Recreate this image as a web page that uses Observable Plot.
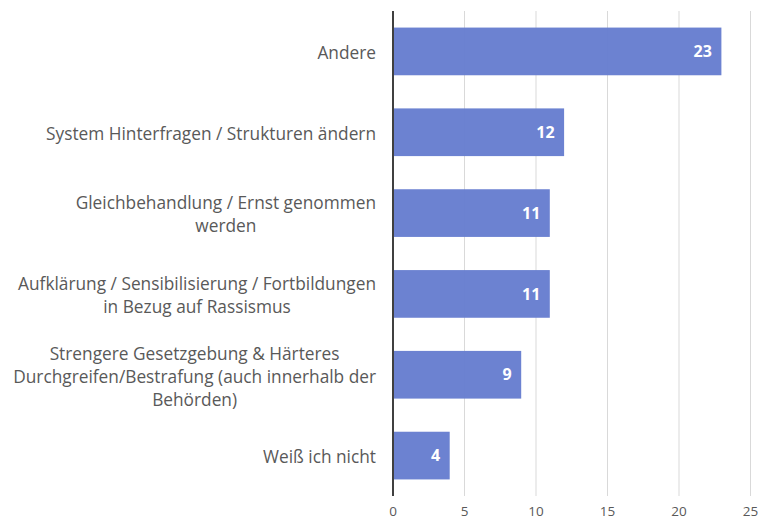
<!DOCTYPE html>
<html><head><meta charset="utf-8">
<script src="https://cdn.jsdelivr.net/npm/d3@7"></script>
<script src="https://cdn.jsdelivr.net/npm/@observablehq/plot@0.6"></script>
<style>body{margin:0;background:#fff;} svg{display:block;}</style>
</head><body><div id="chart"></div>
<script>
const categories = [
  "Andere",
  "System Hinterfragen / Strukturen ändern",
  "Gleichbehandlung / Ernst genommen werden",
  "Aufklärung / Sensibilisierung / Fortbildungen in Bezug auf Rassismus",
  "Strengere Gesetzgebung & Härteres Durchgreifen/Bestrafung (auch innerhalb der Behörden)",
  "Weiß ich nicht"
];
const labelLines = [
  ["Andere"],
  ["System Hinterfragen / Strukturen ändern"],
  ["Gleichbehandlung / Ernst genommen", "werden"],
  ["Aufklärung / Sensibilisierung / Fortbildungen", "in Bezug auf Rassismus"],
  ["Strengere Gesetzgebung & Härteres", "Durchgreifen/Bestrafung (auch innerhalb der", "Behörden)"],
  ["Weiß ich nicht"]
];
const values = [23, 12, 11, 11, 9, 4];
const xTicks = [0, 5, 10, 15, 20, 25];

const data = categories.map((c, i) => ({category: c, value: values[i]}));

const labelFont = "Open Sans";
const labelSize = 17.3;
const ctx = document.createElement("canvas").getContext("2d");
ctx.font = `${labelSize}px "${labelFont}"`;
const blockWidth = lines => Math.max(...lines.map(l => ctx.measureText(l).width));

const labelMarks = labelLines.map((lines, i) => Plot.text([data[i]], {
  y: "category",
  text: () => lines.join("\n"),
  frameAnchor: "left",
  textAnchor: "middle",
  dx: -17 - blockWidth(lines) / 2,
  lineHeight: 23 / labelSize,
  fontSize: labelSize,
  fontFamily: labelFont,
  fill: "#595959"
}));

const chart = Plot.plot({
  width: 758,
  height: 521,
  marginLeft: 392.5,
  marginRight: 8,
  marginTop: 11,
  marginBottom: 25,
  style: {fontFamily: labelFont, background: "#fff"},
  x: {domain: [0, 25], axis: null, label: null},
  y: {domain: categories, axis: null, paddingInner: 0.41, paddingOuter: 0.205, round: false},
  marks: [
    Plot.gridX(xTicks, {stroke: "#d9d9d9", strokeOpacity: 1, strokeWidth: 1}),
    Plot.barX(data, {x: "value", y: "category", fill: "#667dcf", fillOpacity: 0.96}),
    Plot.ruleX([0], {stroke: "#404040", strokeWidth: 2}),
    Plot.axisX(xTicks, {tickSize: 0, tickPadding: 10, label: null, fontSize: 13.5, fill: "#595959", fontFamily: labelFont}),
    Plot.text(data, {x: "value", y: "category", text: d => String(d.value), textAnchor: "end", dx: -10, fill: "white", fontWeight: "bold", fontSize: 16, fontFamily: labelFont}),
    ...labelMarks
  ]
});
document.getElementById("chart").appendChild(chart);
</script>
</body></html>
